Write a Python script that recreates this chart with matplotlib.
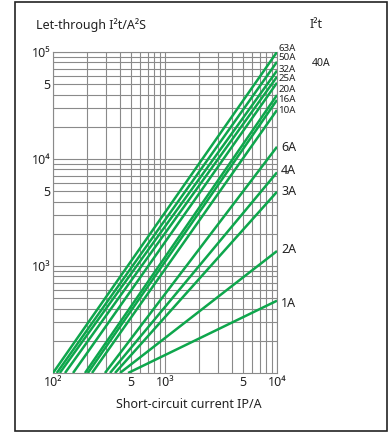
import matplotlib
matplotlib.use('Agg')
import matplotlib.pyplot as plt
from matplotlib.patches import Rectangle
from matplotlib.ticker import FixedLocator, LogLocator, NullFormatter

plt.rcParams['font.family'] = ['Noto Sans', 'DejaVu Sans']

# fuse ratings and their let-through curves (straight in log-log)
ratings = ['63A', '50A', '40A', '32A', '25A', '20A', '16A', '10A', '6A', '4A', '3A', '2A', '1A']
ip_start = [100, 108, 115, 128, 151, 193, 205, 223, 291, 323, 358, 396, 468]
i2t_start = [100] * 13
ip_end = [10000] * 13
i2t_end = [100000, 81000, 67000, 58700, 51600, 39600, 35600, 28700, 13000, 7500, 4940, 1380, 474]

# where the rating names sit at the right edge
label_y = [107000, 88000, 77300, 68300, 56000, 44800, 36100, 28700, 12900, 7780, 4940, 1440, 442]

xticks = [100, 500, 1000, 5000, 10000]
xticklabels = ['10²', '5', '10³', '5', '10⁴']
yticks = [1000, 5000, 10000, 50000, 100000]
yticklabels = ['10³', '5', '10⁴', '5', '10⁵']

green = '#0ea64c'
grid_c = '#8a8a8a'
txt_c = '#222222'

fig = plt.figure(figsize=(3.89, 4.33), dpi=100)
ax = fig.add_axes([53/389, 1-373/433, 224/389, 321/433])

for a, b, c, d in zip(ip_start, ip_end, i2t_start, i2t_end):
    ax.plot([a, b], [c, d], color=green, lw=1.8, solid_capstyle='butt', zorder=3)

ax.set_xscale('log')
ax.set_yscale('log')
ax.set_xlim(100, 10000)
ax.set_ylim(100, 100000)

ax.xaxis.set_minor_locator(LogLocator(base=10, subs=range(2, 10)))
ax.yaxis.set_minor_locator(LogLocator(base=10, subs=range(2, 10)))
ax.xaxis.set_minor_formatter(NullFormatter())
ax.yaxis.set_minor_formatter(NullFormatter())
ax.grid(True, which='both', color=grid_c, lw=0.8)
ax.set_axisbelow(True)

ax.xaxis.set_major_locator(FixedLocator(xticks))
ax.set_xticklabels(xticklabels)
ax.yaxis.set_major_locator(FixedLocator(yticks))
ax.set_yticklabels(yticklabels)
ax.tick_params(which='both', length=0, labelsize=9, colors=txt_c, pad=2)

for s in ax.spines.values():
    s.set_color(grid_c)
    s.set_linewidth(0.8)

for i, (name, ly) in enumerate(zip(ratings, label_y)):
    if name == '40A':
        ax.annotate(name, (10000, ly), xytext=(25, 0), textcoords='offset points',
                    fontsize=7.5, va='center', ha='left', color=txt_c, annotation_clip=False)
    elif i < 8:
        ax.annotate(name, (10000, ly), xytext=(1, 0), textcoords='offset points',
                    fontsize=7, va='center', ha='left', color=txt_c, annotation_clip=False)
    else:
        ax.annotate(name, (10000, ly), xytext=(3, 0), textcoords='offset points',
                    fontsize=9, va='center', ha='left', color=txt_c, annotation_clip=False)

fig.text(36/389, 1-25/433, 'Let-through I²t/A²S', fontsize=9, va='center', ha='left', color=txt_c)
fig.text(310/389, 1-25/433, 'I²t', fontsize=9, va='center', ha='left', color=txt_c)
fig.text(189/389, 1-405/433, 'Short-circuit current IP/A', fontsize=9, va='center', ha='center', color=txt_c)

fig.patches.append(Rectangle((15/389, 1-431/433), 372/389, 429/433, transform=fig.transFigure,
                             fill=False, edgecolor=txt_c, lw=1.2))

fig.savefig('out.png', dpi=100)
